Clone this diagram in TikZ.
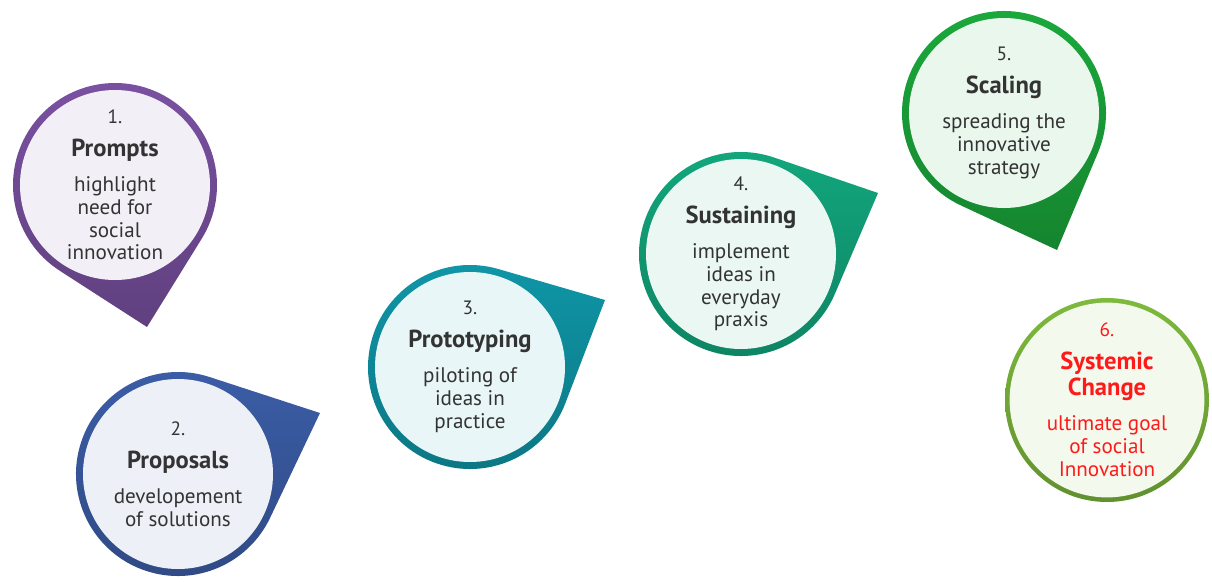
\documentclass[tikz,border=0pt]{standalone}
\usepackage{fontspec}
\setmainfont{PT Sans}
\usetikzlibrary{calc,backgrounds}
\definecolor{promptcol}{HTML}{7B52A3}
\definecolor{proposalcol}{HTML}{3C5EA8}
\definecolor{prototypecol}{HTML}{0F97A8}
\definecolor{sustaincol}{HTML}{12A87E}
\definecolor{scalecol}{HTML}{1BAA3C}
\definecolor{changecol}{HTML}{7DBA3C}
\definecolor{goalred}{HTML}{FF1A1A}
\def\pinrad{2.04cm}
\tikzset{
    stage/.style={circle,minimum size=3.80cm,inner sep=0pt,align=center,
        text=black!80,font=\fontsize{12}{13}\selectfont},
    ring/.style={top color=#1,bottom color=#1!78!black}
}
% number and bold title on top of each stage
\newcommand{\stagetitle}[1]{{\fontsize{14}{16}\selectfont\bfseries #1}}
\newcommand{\stagehead}[2]{{\fontsize{11}{13}\selectfont #1}\\[5.5pt]\stagetitle{#2}\\[7pt]}
% outer ring of a stage, pointed towards its tip coordinate
\newcommand{\pin}[3]{%
    \shade[ring=#3] let \p1=($(#2)-(#1.center)$), \n1={atan2(\y1,\x1)},
        \n2={acos(\pinrad/veclen(\x1,\y1))} in
        (#2) -- ($(#1.center)+(\n1+\n2:\pinrad)$)
        arc[start angle=\n1+\n2, delta angle=360-2*\n2, radius=\pinrad] -- cycle;
}

\begin{document}
\begin{tikzpicture}
    \useasboundingbox (0,0) rectangle (24.24,-11.62);

    \node[stage,fill=promptcol!9] (prompts) at (2.30,-3.70)
        {\stagehead{1.}{Prompts}highlight\\need for\\social\\innovation};
    \coordinate (prompts tip) at (2.94,-6.54);

    \node[stage,fill=proposalcol!9] (proposals) at (3.56,-9.48)
        {\stagehead{2.}{Proposals}developement\\of solutions};
    \coordinate (proposals tip) at (6.40,-8.26);

    \node[stage,fill=prototypecol!9] (prototyping) at (9.40,-7.34)
        {\stagehead{3.}{Prototyping}piloting of\\ideas in\\practice};
    \coordinate (prototyping tip) at (12.10,-6.00);

    \node[stage,fill=sustaincol!9] (sustaining) at (14.82,-5.08)
        {\stagehead{4.}{Sustaining}implement\\ideas in\\everyday\\praxis};
    \coordinate (sustaining tip) at (17.56,-3.86);

    \node[stage,fill=scalecol!9] (scaling) at (20.08,-2.26)
        {\stagehead{5.}{Scaling}spreading the\\innovative\\strategy};
    \coordinate (scaling tip) at (21.14,-5.00);

    \node[stage,fill=changecol!9,text=goalred] (change) at (22.14,-8.00)
        {{\fontsize{11}{13}\selectfont 6.}\\[5.5pt]\stagetitle{Systemic}\\[2pt]\stagetitle{Change}\\[7pt]
         ultimate goal\\of social\\Innovation};

    \begin{pgfonlayer}{background}
        \pin{prompts}{prompts tip}{promptcol}
        \pin{proposals}{proposals tip}{proposalcol}
        \pin{prototyping}{prototyping tip}{prototypecol}
        \pin{sustaining}{sustaining tip}{sustaincol}
        \pin{scaling}{scaling tip}{scalecol}
        \shade[ring=changecol] (change.center) circle[radius=\pinrad];
    \end{pgfonlayer}
\end{tikzpicture}
\end{document}
